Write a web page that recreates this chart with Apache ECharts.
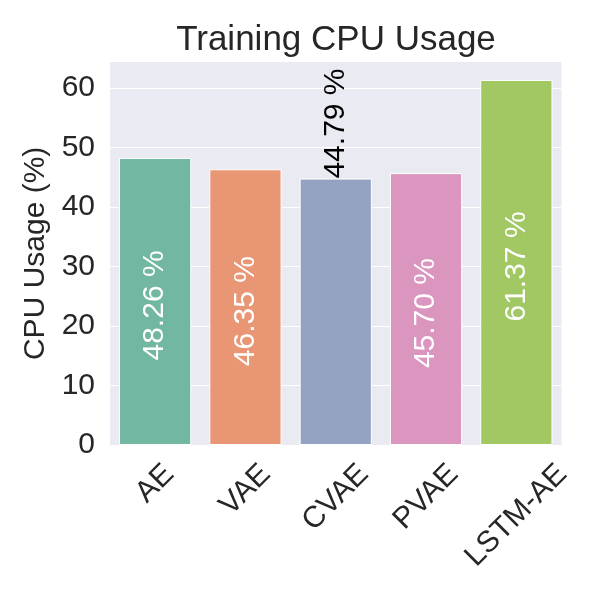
<!DOCTYPE html>
<html><head><meta charset="utf-8">
<script src="https://cdn.jsdelivr.net/npm/echarts@6/dist/echarts.min.js"></script>
<style>html,body{margin:0;padding:0;background:#fff}#c{width:600px;height:600px}</style>
</head><body><div id="c"></div>
<script>
const categories = ['AE', 'VAE', 'CVAE', 'PVAE', 'LSTM-AE'];
const cpuUsage = [48.26, 46.35, 44.79, 45.70, 61.37];
const labelInside = [true, true, false, true, true];
const yTicks = [0, 10, 20, 30, 40, 50, 60];
const colors = ['#72b7a1', '#e99675', '#95a3c3', '#db96c0', '#a2c864'];

const FONT = '"Liberation Sans", Arial, sans-serif';
const TXT = '#262626';
const XFS = 30;
const XFONT = XFS + 'px "Liberation Sans", Arial, sans-serif';

const ctx = document.createElement('canvas').getContext('2d');
ctx.font = XFONT;
const capH = 0.716 * XFS;
const catWidths = categories.map(c => ctx.measureText(c).width);

const seriesData = cpuUsage.map((v, i) => {
  const item = { value: v, itemStyle: { color: colors[i] } };
  if (!labelInside[i]) {
    item.label = {
      position: 'top', distance: 4, rotate: 90, align: 'left', verticalAlign: 'middle',
      color: '#000000', offset: [-4, 0]
    };
  }
  return item;
});

const chart = echarts.init(document.getElementById('c'), null, { renderer: 'canvas' });
chart.setOption({
  animation: false,
  backgroundColor: '#ffffff',
  title: {
    text: 'Training CPU Usage',
    left: 336, top: 20, padding: 0, textAlign: 'center',
    textStyle: { fontFamily: FONT, fontSize: 35, fontWeight: 'normal', color: TXT, lineHeight: 40 }
  },
  grid: {
    left: 110, right: 38.5, top: 61.7, bottom: 155,
    show: true, backgroundColor: '#EAEAF2', borderWidth: 0,
    containLabel: false, outerBoundsMode: 'none'
  },
  xAxis: {
    type: 'category',
    data: categories,
    axisLine: { show: false },
    axisTick: { show: false },
    splitLine: { show: false },
    axisLabel: { show: false }
  },
  yAxis: {
    type: 'value',
    min: 0,
    max: Math.max(...cpuUsage) * 1.05,
    interval: 10,
    name: 'CPU Usage (%)',
    nameLocation: 'middle',
    nameGap: 55,
    nameTextStyle: { fontFamily: FONT, fontSize: 30, color: TXT },
    axisLine: { show: false },
    axisTick: { show: false },
    splitLine: { show: true, lineStyle: { color: '#ffffff', width: 1.2 } },
    axisLabel: {
      margin: 15, fontFamily: FONT, fontSize: 30, color: TXT,
      showMaxLabel: false,
      formatter: v => (yTicks.includes(Math.round(v * 1000) / 1000) ? String(v) : '')
    }
  },
  series: [{
    type: 'bar',
    data: seriesData,
    barCategoryGap: '20%',
    itemStyle: { borderColor: '#ffffff', borderWidth: 1 },
    label: {
      show: true,
      position: 'inside',
      rotate: 90,
      align: 'center',
      verticalAlign: 'middle',
      offset: [-4, 0],
      fontFamily: FONT,
      fontSize: 30,
      color: '#ffffff',
      formatter: p => p.value.toFixed(2) + ' %'
    }
  }, {
    type: 'custom',
    name: 'xLabels',
    coordinateSystem: 'cartesian2d',
    clip: false,
    silent: true,
    z: 10,
    data: categories.map((c, i) => [i, 0]),
    renderItem: (params, api) => {
      const i = api.value(0);
      const pt = api.coord([i, 0]);
      const E = (catWidths[i] + capH) / Math.SQRT2;
      return {
        type: 'text',
        x: pt[0],
        y: pt[1] + 17 + E / 2,
        rotation: Math.PI / 4,
        style: {
          text: categories[i],
          align: 'center',
          verticalAlign: 'middle',
          font: XFONT,
          fill: TXT
        }
      };
    }
  }]
});
</script>
</body></html>
